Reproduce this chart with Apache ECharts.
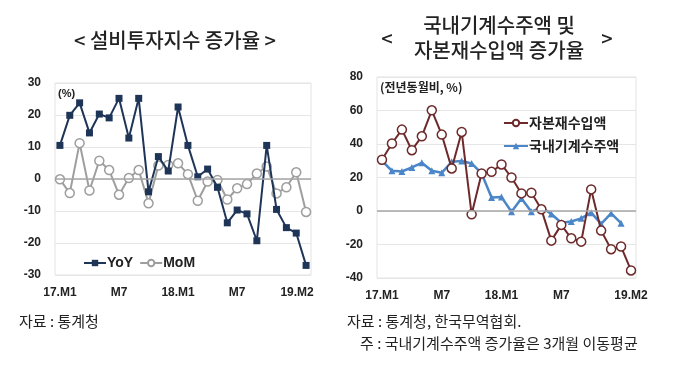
<!DOCTYPE html>
<html><head><meta charset="utf-8">
<script src="https://cdn.jsdelivr.net/npm/echarts@6/dist/echarts.min.js"></script>
<style>html,body{margin:0;padding:0;background:#fff}#c{width:680px;height:385px}</style>
</head><body><div id="c"></div>
<script>
const categories = ['17.M1','17.M2','17.M3','17.M4','17.M5','17.M6','17.M7','17.M8','17.M9','17.M10','17.M11','17.M12',
  '18.M1','18.M2','18.M3','18.M4','18.M5','18.M6','18.M7','18.M8','18.M9','18.M10','18.M11','18.M12','19.M1','19.M2'];
const tickIndex = [0, 6, 12, 18, 25];
const tickText = ['17.M1', 'M7', '18.M1', 'M7', '19.M2'];
const yoy = [10.5, 19.9, 23.8, 14.4, 20.3, 19.1, 25.2, 12.8, 25.2, -4.0, 7.0, 2.5, 22.5, 10.5, 0.7, 3.1, -2.6, -13.7, -9.7, -10.9, -19.3, 10.5, -9.5, -15.2, -16.9, -27.0];
const mom = [-0.1, -4.4, 11.2, -3.6, 5.7, 2.8, -4.9, 0.3, 2.8, -7.6, 4.2, 4.4, 4.9, 1.5, -6.8, -0.8, -0.3, -6.4, -2.9, -1.6, 1.7, 3.9, -4.5, -2.6, 2.1, -10.3];
const capitalImports = [30.6, 40.3, 48.6, 36.3, 44.6, 60.1, 45.6, 25.4, 47.2, -2.0, 22.4, 23.4, 27.8, 20.0, 10.5, 10.9, 1.0, -17.7, -8.3, -16.3, -18.3, 12.9, -11.7, -22.8, -21.2, -35.5];
const machineryOrders = [30.0, 24.0, 23.6, 26.0, 28.8, 24.0, 22.8, 29.4, 29.9, 28.4, 22.4, 8.1, 8.3, -0.4, 7.5, -0.4, 2.2, -1.8, -7.0, -6.3, -4.4, -1.0, -7.7, -1.4, -7.3, null];

const chart = echarts.init(document.getElementById('c'));
const LAT = 'Liberation Sans';
const KR = 'Noto Sans CJK KR';

function xAxisFor(gridIndex, shiftLast) {
  return {
    type: 'category', gridIndex, data: categories, boundaryGap: true,
    axisLine: {show: false}, axisTick: {show: false}, splitLine: {show: false},
    axisLabel: {
      interval: 0, margin: 12,
      color: '#222', fontFamily: LAT, fontWeight: 'bold', fontSize: 12,
      formatter: function (v, i) {
        const k = tickIndex.indexOf(i);
        if (k < 0) return '';
        if (shiftLast && i === 25) return '{l|' + tickText[k] + '}';
        return tickText[k];
      },
      rich: {l: {padding: [0, 18, 0, 0], color: '#222', fontFamily: LAT, fontWeight: 'bold', fontSize: 12}}
    }
  };
}
function yAxisFor(gridIndex, min, max, interval) {
  return {
    type: 'value', gridIndex, min, max, interval,
    axisLine: {show: false}, axisTick: {show: false},
    splitLine: {lineStyle: {color: '#e6e6e6', width: 1}},
    axisLabel: {color: '#222', fontFamily: LAT, fontWeight: 'bold', fontSize: 12, margin: 14}
  };
}
const zeroLine = {
  silent: true, symbol: 'none', label: {show: false},
  lineStyle: {color: '#a6a6a6', width: 1.5, type: 'solid'},
  data: [{yAxis: 0}]
};
const TF = '500 20px "Noto Sans CJK KR"';
const FF = '15px "Noto Sans CJK KR"';

chart.setOption({
  animation: false,
  grid: [
    {left: 55, top: 83, width: 256, height: 192, show: true, borderColor: '#e3e3e3', borderWidth: 1, containLabel: false},
    {left: 377, top: 77, width: 259, height: 201, show: true, borderColor: '#e3e3e3', borderWidth: 1, containLabel: false}
  ],
  xAxis: [xAxisFor(0, true), xAxisFor(1, false)],
  yAxis: [yAxisFor(0, -30, 30, 10), yAxisFor(1, -40, 80, 20)],
  legend: [
    {
      left: 78, top: 251, orient: 'horizontal', itemGap: 6, itemWidth: 22, itemHeight: 8,
      data: ['YoY', 'MoM'],
      textStyle: {color: '#222', fontFamily: LAT, fontWeight: 'bold', fontSize: 14, padding: [0, 0, 0, -4]}
    },
    {
      left: 498, top: 111, orient: 'vertical', itemGap: 9, itemWidth: 24, itemHeight: 8,
      data: ['자본재수입액', '국내기계수주액'],
      textStyle: {color: '#222', fontFamily: KR, fontWeight: 'bold', fontSize: 14, padding: [0, 0, 0, -4]}
    }
  ],
  series: [
    {
      name: 'YoY', type: 'line', xAxisIndex: 0, yAxisIndex: 0, data: yoy, z: 4,
      symbol: 'rect', symbolSize: 7,
      lineStyle: {color: '#1f3558', width: 2}, itemStyle: {color: '#1f3558'},
      markLine: zeroLine
    },
    {
      name: 'MoM', type: 'line', xAxisIndex: 0, yAxisIndex: 0, data: mom, z: 3,
      symbol: 'circle', symbolSize: 9,
      lineStyle: {color: '#9e9e9e', width: 2},
      itemStyle: {color: '#ffffff', borderColor: '#9e9e9e', borderWidth: 1.5}
    },
    {
      name: '자본재수입액', type: 'line', xAxisIndex: 1, yAxisIndex: 1, data: capitalImports, z: 4,
      symbol: 'circle', symbolSize: 9,
      lineStyle: {color: '#6e2a2a', width: 2},
      itemStyle: {color: '#ffffff', borderColor: '#6e2a2a', borderWidth: 1.5},
      markLine: zeroLine
    },
    {
      name: '국내기계수주액', type: 'line', xAxisIndex: 1, yAxisIndex: 1, data: machineryOrders, z: 3,
      symbol: 'triangle', symbolSize: 7,
      lineStyle: {color: '#4a86c8', width: 2.5}, itemStyle: {color: '#4a86c8'}
    }
  ],
  graphic: [
    {type: 'text', style: {text: '< 설비투자지수 증가율 >', x: 175, y: 40, align: 'center', verticalAlign: 'middle', font: TF, fill: '#222'}},
    {type: 'text', style: {text: '국내기계수주액 및', x: 499, y: 25, align: 'center', verticalAlign: 'middle', font: TF, fill: '#222'}},
    {type: 'text', style: {text: '자본재수입액 증가율', x: 499, y: 50, align: 'center', verticalAlign: 'middle', font: TF, fill: '#222'}},
    {type: 'text', style: {text: '<', x: 387, y: 38, align: 'center', verticalAlign: 'middle', font: TF, fill: '#222'}},
    {type: 'text', style: {text: '>', x: 607, y: 38, align: 'center', verticalAlign: 'middle', font: TF, fill: '#222'}},
    {type: 'text', style: {text: '(%)', x: 58, y: 94, align: 'left', verticalAlign: 'middle', font: 'bold 11px "Liberation Sans"', fill: '#222'}},
    {type: 'text', style: {text: '(전년동월비, %)', x: 380, y: 87, align: 'left', verticalAlign: 'middle', font: 'bold 12px "Noto Sans CJK KR"', fill: '#222'}},
    {type: 'text', style: {text: '자료 : 통계청', x: 19, y: 321, align: 'left', verticalAlign: 'middle', font: FF, fill: '#222'}},
    {type: 'text', style: {text: '자료 : 통계청, 한국무역협회.', x: 347, y: 321, align: 'left', verticalAlign: 'middle', font: FF, fill: '#222'}},
    {type: 'text', style: {text: '주 : 국내기계수주액 증가율은 3개월 이동평균', x: 360, y: 343, align: 'left', verticalAlign: 'middle', font: FF, fill: '#222'}}
  ]
});
</script>
</body></html>
